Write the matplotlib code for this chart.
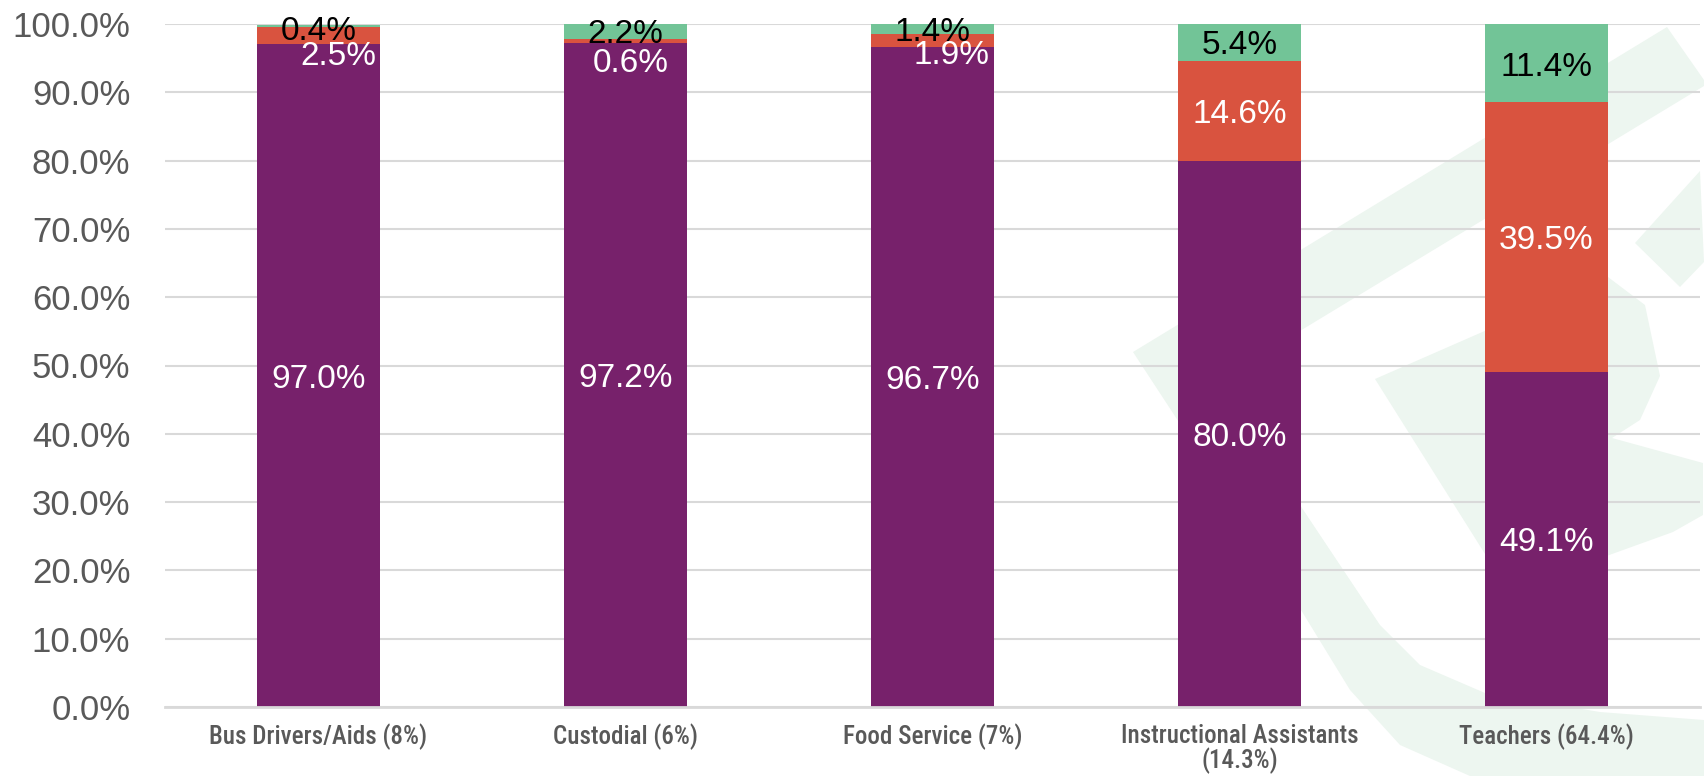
import matplotlib
matplotlib.use("Agg")
import matplotlib.pyplot as plt
from matplotlib.patches import Polygon
import numpy as np

# Данные
categories = ["Bus Drivers/Aids (8%)", "Custodial (6%)", "Food Service (7%)",
              "Instructional Assistants\n(14.3%)", "Teachers (64.4%)"]
purple_vals = [97.0, 97.2, 96.7, 80.0, 49.1]
red_vals = [2.5, 0.6, 1.9, 14.6, 39.5]
green_vals = [0.4, 2.2, 1.4, 5.4, 11.4]
y_ticks = [0, 10, 20, 30, 40, 50, 60, 70, 80, 90, 100]

# Цвета
c_purple = "#77216B"
c_red = "#D9533F"
c_green = "#72C497"
c_grid = "#D9D9D9"
c_text = "#595959"
c_mark = "#EDF6F0"

W, H = 1704, 776
fig = plt.figure(figsize=(W / 100, H / 100), dpi=100)
ax = fig.add_axes([165 / W, 1 - 707 / H, (1700 - 165) / W, (707 - 24) / H])
ax.set_facecolor("none")


def px(points):
    return [(x / W, 1 - y / H) for x, y in points]


# водяной знак (контур логотипа, приблизительно)
logo_shapes = [
    [(1133, 352), (1667, 27), (1704, 80), (1704, 86), (1290, 337), (1200, 392), (1290, 490),
     (1380, 625), (1420, 665), (1485, 693), (1600, 712), (1704, 720), (1704, 776), (1470, 776),
     (1400, 745), (1350, 690), (1290, 592), (1133, 352)],
    [(1375, 379), (1608, 277), (1645, 305), (1660, 376), (1640, 420), (1612, 438), (1703, 463),
     (1703, 515), (1673, 532), (1540, 580), (1485, 554)],
    [(1635, 243), (1700, 171), (1704, 262), (1680, 287)],
]
for shp in logo_shapes:
    fig.patches.append(Polygon(px(shp), closed=True, transform=fig.transFigure,
                               facecolor=c_mark, edgecolor="none", zorder=-1))

x = np.arange(len(categories))
purple = np.array(purple_vals)
red = np.array(red_vals)
green = np.array(green_vals)
bw = 0.4

ax.bar(x, purple, bw, color=c_purple, zorder=2)
ax.bar(x, red, bw, bottom=purple, color=c_red, zorder=2)
ax.bar(x, green, bw, bottom=purple + red, color=c_green, zorder=2)

# подписи значений; смещения в пикселях (узкие сегменты раздвинуты как в Excel)
purple_shift = [(0, -3.5)] * 5
red_shift = [(20, -21), (5, -22), (19, -15), (0, -3.5), (0, -3.5)]
green_shift = [(0, -5), (0, -3), (0, -4), (0, -3.5), (0, -4.5)]
lab_font = dict(family=["Liberation Sans", "DejaVu Sans"], fontsize=24)


def put_label(val, xpos, ypos, shift, color, z):
    dx, dy = shift
    ax.annotate(f"{val:.1f}%", (xpos, ypos), xytext=(dx * 0.72, dy * 0.72),
                textcoords="offset points", ha="center", va="center",
                color=color, zorder=z, **lab_font)


for i in range(len(categories)):
    put_label(purple[i], x[i], purple[i] / 2, purple_shift[i], "white", 5)
    put_label(red[i], x[i], purple[i] + red[i] / 2, red_shift[i], "white", 6)
    put_label(green[i], x[i], purple[i] + red[i] + green[i] / 2, green_shift[i], "black", 5)

ax.set_xlim(-0.5, len(categories) - 0.5)
ax.set_ylim(0, 100)
ax.set_yticks(y_ticks)
ax.set_yticklabels([f"{v:.1f}%" for v in y_ticks], family=["Liberation Sans", "DejaVu Sans"],
                   fontsize=25, color=c_text)
ax.set_xticks(x)
ax.set_xticklabels(categories, family=["Roboto Condensed", "Liberation Sans", "DejaVu Sans"],
                   fontsize=18, color=c_text, fontweight=500, linespacing=1.0)
ax.tick_params(axis="y", length=0, pad=25)
ax.tick_params(axis="x", length=0, pad=12)

ax.grid(axis="y", color=c_grid, linewidth=1.5, zorder=0)
ax.set_axisbelow(True)
for s in ["top", "right", "left"]:
    ax.spines[s].set_visible(False)
ax.spines["bottom"].set_color(c_grid)
ax.spines["bottom"].set_linewidth(2)

plt.savefig("out.png", dpi=100)
